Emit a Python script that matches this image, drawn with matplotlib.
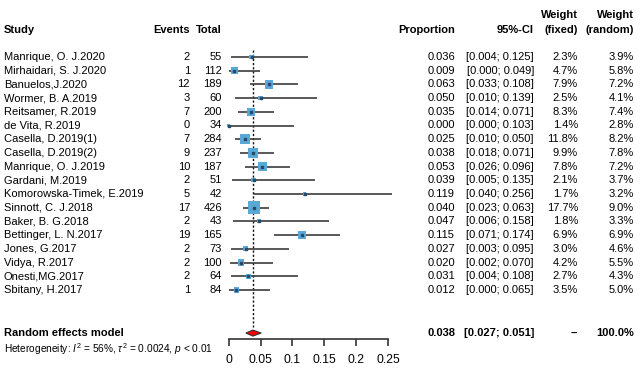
import matplotlib
matplotlib.use("Agg")
import matplotlib.pyplot as plt
import matplotlib.transforms as mtransforms
import numpy as np

plt.rcParams['font.family'] = ['Liberation Sans', 'DejaVu Sans']
plt.rcParams['mathtext.fontset'] = 'custom'
plt.rcParams['mathtext.rm'] = 'Liberation Sans'
plt.rcParams['mathtext.it'] = 'Liberation Sans:italic'

# Study data
studies = ["Manrique, O. J.2020", "Mirhaidari, S. J.2020", "Banuelos,J.2020",
           "Wormer, B. A.2019", "Reitsamer, R.2019", "de Vita, R.2019",
           "Casella, D.2019(1)", "Casella, D.2019(2)", "Manrique, O. J.2019",
           "Gardani, M.2019", "Komorowska-Timek, E.2019", "Sinnott, C. J.2018",
           "Baker, B. G.2018", "Bettinger, L. N.2017", "Jones, G.2017",
           "Vidya, R.2017", "Onesti,MG.2017", "Sbitany, H.2017"]
events = [2, 1, 12, 3, 7, 0, 7, 9, 10, 2, 5, 17, 2, 19, 2, 2, 2, 1]
totals = [55, 112, 189, 60, 200, 34, 284, 237, 187, 51, 42, 426, 43, 165, 73, 100, 64, 84]
prop = [0.036, 0.009, 0.063, 0.050, 0.035, 0.000, 0.025, 0.038, 0.053,
        0.039, 0.119, 0.040, 0.047, 0.115, 0.027, 0.020, 0.031, 0.012]
lower = [0.004, 0.000, 0.033, 0.010, 0.014, 0.000, 0.010, 0.018, 0.026,
         0.005, 0.040, 0.023, 0.006, 0.071, 0.003, 0.002, 0.004, 0.000]
upper = [0.125, 0.049, 0.108, 0.139, 0.071, 0.103, 0.050, 0.071, 0.096,
         0.135, 0.256, 0.063, 0.158, 0.174, 0.095, 0.070, 0.108, 0.065]
w_fixed = [2.3, 4.7, 7.9, 2.5, 8.3, 1.4, 11.8, 9.9, 7.8,
           2.1, 1.7, 17.7, 1.8, 6.9, 3.0, 4.2, 2.7, 3.5]
w_random = [3.9, 5.8, 7.2, 4.1, 7.4, 2.8, 8.2, 7.8, 7.2,
            3.7, 3.2, 9.0, 3.3, 6.9, 4.6, 5.5, 4.3, 5.0]

# Random effects summary
re_est, re_low, re_up = 0.038, 0.027, 0.051
xticks = [0, 0.05, 0.1, 0.15, 0.2, 0.25]
xticklabels = ["0", "0.05", "0.1", "0.15", "0.2", "0.25"]

W, H = 640, 384
fig = plt.figure(figsize=(6.4, 3.84), dpi=100)
x0_px, x1_px = 228.7, 388.0
row0_px, row_step = 57.0, 13.7
ax = fig.add_axes([x0_px / W, 0, (x1_px - x0_px) / W, 1])
ax.set_xlim(0, 0.25)
ax.set_ylim((H - row0_px) / row_step, -row0_px / row_step)
ax.set_facecolor('none')

rows = np.arange(len(studies))
sq_color = '#5aa8d6'

# dotted line at the summary estimate
ax.plot([re_est, re_est], [-0.5, 19.7], color='#111111', lw=1.0,
        linestyle=(0, (1.6, 1.4)), zorder=1)

# CI lines, squares and centre dots
for i in rows:
    ax.plot([lower[i], upper[i]], [i, i], color='#3c3c3c', lw=1.2,
            solid_capstyle='butt', clip_on=False, zorder=2)
side = 9.0 * np.sqrt(np.array(w_fixed) / 17.7)
ax.scatter(prop, rows, s=side ** 2, marker='s', color=sq_color,
           edgecolors='none', zorder=3, clip_on=False)
ax.scatter(prop, rows, s=1.5, marker='s', color='#2a4a6a', zorder=4,
           clip_on=False)

# summary diamond
re_row = 20.15
dh = 0.22
ax.fill([re_low, re_est, re_up, re_est], [re_row, re_row - dh, re_row, re_row + dh],
        facecolor='#ff0000', edgecolor='#333333', lw=0.8, zorder=3)

# x axis
for s in ['top', 'right', 'left']:
    ax.spines[s].set_visible(False)
ax.spines['bottom'].set_position(('data', 20.58))
ax.spines['bottom'].set_bounds(0, 0.25)
ax.spines['bottom'].set_linewidth(1.2)
ax.spines['bottom'].set_color('#333333')
ax.set_xticks(xticks)
ax.set_xticklabels(xticklabels, fontsize=8.8)
ax.tick_params(axis='x', direction='out', length=5, width=1.2,
               color='#333333', pad=6)
ax.set_yticks([])

# text columns: x in figure pixels, y in rows
tr = mtransforms.blended_transform_factory(fig.transFigure, ax.transData)
fs = 8

def put(px, row, s, ha='left', bold=False, size=fs):
    ax.text(px / W, row, s, transform=tr, ha=ha, va='center', fontsize=size,
            fontweight='bold' if bold else 'normal', clip_on=False)

hdr = (30 - row0_px) / row_step
hdr2 = (15 - row0_px) / row_step
put(4, hdr, "Study", bold=True)
put(190, hdr, "Events", ha='right', bold=True)
put(222, hdr, "Total", ha='right', bold=True)
put(455, hdr, "Proportion", ha='right', bold=True)
put(534, hdr, "95%-CI", ha='right', bold=True)
put(578, hdr2, "Weight", ha='right', bold=True)
put(578, hdr, "(fixed)", ha='right', bold=True)
put(634, hdr2, "Weight", ha='right', bold=True)
put(634, hdr, "(random)", ha='right', bold=True)

for i in rows:
    put(4, i, studies[i])
    put(190, i, str(events[i]), ha='right')
    put(222, i, str(totals[i]), ha='right')
    put(455, i, f"{prop[i]:.3f}", ha='right')
    put(534, i, f"[{lower[i]:.3f}; {upper[i]:.3f}]", ha='right')
    put(578, i, f"{w_fixed[i]:.1f}%", ha='right')
    put(634, i, f"{w_random[i]:.1f}%", ha='right')

put(4, re_row, "Random effects model", bold=True)
put(455, re_row, f"{re_est:.3f}", ha='right', bold=True)
put(534, re_row, f"[{re_low:.3f}; {re_up:.3f}]", ha='right', bold=True)
put(578, re_row, "--", ha='right', bold=True)
put(634, re_row, "100.0%", ha='right', bold=True)
put(4, (349 - row0_px) / row_step,
    r"Heterogeneity: $I^2$ = 56%, $\tau^2$ = 0.0024, $p$ < 0.01", size=7.3)

fig.savefig("out.png", dpi=100)
